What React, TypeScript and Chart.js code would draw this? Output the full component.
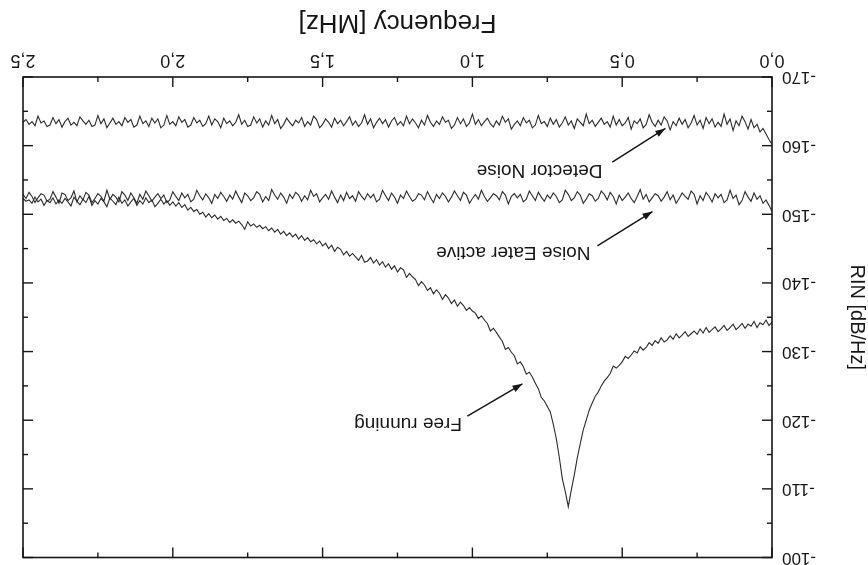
import React, { useEffect, useRef } from "react";
import { Chart, registerables } from "chart.js";

Chart.register(...registerables);

// Frequency sampling of the traces (MHz)
const freqStepMHz = 0.01;

// Tick values and labels
const xTickValues = [0, 0.5, 1.0, 1.5, 2.0, 2.5];
const xTickLabels = ["0,0", "0,5", "1,0", "1,5", "2,0", "2,5"];
const yTickValues = [-170, -160, -150, -140, -130, -120, -110, -100];
const yTickLabels = ["-170", "-160", "-150", "-140", "-130", "-120", "-110", "-100"];

// RIN [dB/Hz], one value per 0.01 MHz from 0.00 to 2.50 MHz
const freeRunning = [
  -134.3, -133.8, -134.6, -133.9, -134.2, -133.5, -134.4, -133.7, -134.0, -133.4,
  -134.1, -133.6, -133.2, -134.0, -133.5, -133.1, -133.8, -133.3, -132.9, -133.6,
  -133.2, -132.8, -133.5, -132.7, -133.3, -132.5, -133.0, -132.6, -132.2, -132.9,
  -132.4, -132.0, -132.6, -131.8, -132.3, -131.7, -131.4, -132.0, -131.2, -131.6,
  -130.9, -131.3, -130.6, -130.2, -130.7, -129.8, -130.1, -129.5, -129.0, -129.3,
  -128.5, -128.0, -127.6, -127.9, -126.8, -126.2, -125.7, -125.0, -124.1, -123.5,
  -122.5, -121.5, -120.0, -118.6, -116.6, -114.5, -112.0, -109.8, -107.4, -109.6,
  -111.5, -114.6, -117.3, -119.4, -121.2, -122.0, -122.8, -123.3, -124.6, -125.4,
  -126.3, -127.0, -126.7, -127.8, -128.5, -128.2, -129.4, -129.9, -130.6, -130.3,
  -131.5, -132.1, -132.8, -133.4, -133.0, -134.1, -134.6, -135.2, -134.8, -135.6,
  -135.9, -136.4, -136.0, -136.7, -137.2, -136.6, -137.5, -137.0, -137.8, -138.3,
  -137.6, -138.5, -139.0, -138.4, -139.3, -138.9, -139.7, -140.2, -139.6, -140.5,
  -140.9, -141.4, -140.8, -141.9, -142.2, -141.6, -142.5, -142.0, -142.8, -142.3,
  -143.1, -142.6, -143.4, -142.9, -143.7, -143.2, -143.0, -144.0, -143.3, -143.8,
  -144.3, -143.9, -144.6, -144.1, -144.9, -145.2, -144.6, -145.5, -145.0, -145.8,
  -145.4, -146.1, -145.7, -146.3, -146.0, -146.6, -146.2, -146.9, -146.4, -147.1,
  -146.7, -147.3, -146.9, -147.5, -147.1, -147.8, -147.4, -148.0, -147.6, -148.2,
  -147.9, -148.4, -148.1, -148.6, -148.3, -148.9, -147.8, -148.5, -149.0, -148.7,
  -149.2, -148.8, -149.4, -149.1, -149.7, -149.3, -149.9, -149.5, -150.1, -149.6,
  -150.3, -150.0, -150.7, -150.4, -151.0, -150.6, -151.4, -151.0, -151.7, -151.2,
  -151.8, -151.3, -152.0, -151.5, -152.2, -151.6, -151.1, -152.1, -151.7, -152.4,
  -151.5, -152.0, -151.3, -152.3, -151.8, -151.2, -152.1, -151.6, -152.5, -151.4,
  -151.9, -152.4, -151.1, -151.8, -152.3, -151.5, -152.0, -151.3, -152.6, -151.7,
  -152.2, -151.4, -151.9, -152.5, -151.2, -151.8, -152.3, -151.6, -152.1, -151.5,
  -152.4, -151.7, -152.0, -151.3, -152.2, -151.8, -152.5, -151.6, -152.1, -151.9, -152.3,
];

const noiseEaterActive = [
  -150.4, -151.3, -152.1, -151.6, -152.7, -152.2, -153.1, -151.9, -152.5, -153.3,
  -152.0, -151.4, -152.8, -152.3, -153.5, -152.1, -151.7, -152.9, -152.4, -153.0,
  -151.8, -152.6, -153.2, -152.0, -152.7, -151.5, -152.9, -153.4, -152.2, -152.6,
  -153.1, -152.3, -151.6, -152.8, -152.1, -153.3, -152.5, -151.9, -152.7, -153.0,
  -152.4, -151.8, -152.9, -152.2, -153.6, -152.6, -151.7, -152.3, -153.1, -152.5,
  -152.0, -152.8, -151.5, -152.6, -153.2, -152.1, -152.9, -153.4, -152.3, -151.9,
  -152.7, -153.0, -152.2, -151.6, -152.8, -153.3, -152.4, -152.0, -152.9, -153.5,
  -152.1, -151.7, -152.6, -153.1, -152.3, -152.8, -151.9, -152.5, -153.2, -152.0,
  -152.7, -153.4, -152.2, -151.8, -152.9, -152.4, -153.0, -152.6, -151.5, -152.8,
  -153.3, -152.1, -152.7, -153.0, -152.4, -151.9, -152.6, -153.5, -152.2, -152.9,
  -152.3, -151.6, -152.8, -153.2, -152.0, -152.7, -153.4, -152.5, -151.8, -152.6,
  -153.1, -152.3, -152.9, -151.7, -152.4, -153.3, -152.1, -152.8, -153.0, -152.2,
  -151.9, -152.6, -153.4, -152.3, -152.8, -151.6, -152.5, -153.1, -152.0, -152.7,
  -153.5, -152.2, -151.8, -152.9, -152.4, -153.0, -152.1, -152.6, -153.3, -151.9,
  -152.7, -152.3, -153.2, -152.0, -152.8, -151.7, -152.5, -153.4, -152.2, -152.9,
  -152.4, -151.8, -153.0, -152.6, -153.5, -152.1, -152.7, -151.9, -152.8, -153.2,
  -152.3, -152.9, -151.6, -152.5, -153.1, -152.2, -152.8, -153.6, -152.0, -152.6,
  -151.8, -152.9, -153.3, -152.4, -152.0, -152.7, -153.1, -151.7, -152.5, -153.4,
  -152.2, -152.8, -151.9, -152.6, -153.2, -152.3, -152.9, -151.6, -152.4, -153.0,
  -152.1, -152.7, -153.5, -152.2, -151.8, -152.9, -152.4, -153.1, -152.0, -152.6,
  -153.3, -152.1, -151.7, -152.8, -152.3, -153.0, -152.5, -151.9, -152.7, -153.4,
  -152.2, -152.9, -151.6, -152.4, -153.1, -152.0, -152.8, -153.3, -151.8, -152.5,
  -152.9, -152.2, -153.5, -151.9, -152.6, -153.0, -152.3, -151.7, -152.8, -153.2,
  -152.1, -152.7, -151.8, -153.4, -152.4, -152.0, -152.9, -153.1, -151.6, -152.5,
  -153.3, -152.2, -151.9, -152.8, -153.0, -152.4, -151.7, -152.6, -153.2, -152.3, -152.9,
];

const detectorNoise = [
  -160.2, -160.9, -161.7, -162.5, -162.0, -163.1, -162.6, -163.8, -162.4, -163.5,
  -164.3, -162.9, -163.6, -162.2, -163.9, -163.1, -164.6, -162.8, -163.4, -162.7,
  -163.9, -163.2, -164.1, -162.5, -163.7, -163.0, -164.4, -163.3, -162.6, -163.8,
  -163.1, -164.0, -162.9, -163.5, -162.3, -163.6, -164.2, -163.0, -163.7, -162.8,
  -163.4, -164.5, -163.1, -162.6, -163.9, -163.2, -163.6, -162.4, -164.1, -163.3,
  -162.9, -163.8, -163.0, -164.3, -162.7, -163.5, -163.1, -164.0, -163.4, -162.8,
  -163.7, -163.2, -164.6, -162.9, -163.4, -163.9, -162.5, -163.6, -163.0, -164.2,
  -163.3, -162.7, -163.8, -163.1, -164.0, -162.8, -163.5, -163.2, -164.4, -163.0,
  -162.6, -163.7, -163.3, -164.1, -162.9, -163.6, -163.1, -162.4, -163.9, -163.4,
  -164.3, -163.0, -163.6, -162.7, -163.2, -164.0, -163.5, -162.9, -163.8, -163.1,
  -164.6, -163.3, -162.8, -163.9, -163.2, -164.1, -163.0, -162.5, -163.7, -163.4,
  -164.2, -163.1, -163.6, -162.8, -163.4, -164.4, -163.0, -163.7, -162.6, -163.3,
  -163.9, -163.2, -164.3, -162.9, -163.5, -163.0, -164.1, -163.6, -162.7, -163.8,
  -163.2, -164.0, -163.4, -162.6, -163.9, -163.1, -164.5, -163.3, -162.8, -163.6,
  -163.0, -164.2, -163.5, -162.9, -163.7, -163.2, -164.0, -162.7, -163.4, -163.9,
  -163.1, -162.6, -163.8, -164.3, -163.0, -163.5, -162.8, -164.1, -163.3, -163.7,
  -162.9, -163.4, -164.0, -163.1, -162.5, -163.8, -163.2, -164.4, -163.0, -163.6,
  -162.7, -163.9, -163.3, -164.2, -163.0, -162.8, -163.7, -163.1, -164.5, -163.4,
  -162.9, -163.6, -163.2, -164.0, -162.6, -163.5, -163.9, -163.0, -164.3, -163.2,
  -162.8, -163.7, -163.3, -164.1, -163.0, -162.7, -163.8, -163.4, -164.2, -162.9,
  -163.5, -163.1, -164.4, -163.0, -162.6, -163.9, -163.3, -164.0, -162.8, -163.6,
  -163.2, -164.3, -163.0, -162.7, -163.8, -163.4, -164.1, -162.9, -163.5, -163.1,
  -164.0, -163.3, -162.6, -163.9, -163.2, -164.4, -163.0, -162.8, -163.7, -163.1,
  -163.6, -164.2, -162.9, -163.4, -163.0, -164.0, -163.5, -162.7, -163.8, -163.2,
  -164.1, -163.0, -162.8, -163.6, -163.3, -164.3, -162.9, -163.5, -163.1, -163.8, -163.4,
];

// Annotation texts with their anchor (data units) and arrow
const annotations = [
  { text: "Free running", textF: 1.035, textDb: -119.6, tailF: 1.017, tailDb: -120.6, headF: 0.833, headDb: -125.3 },
  { text: "Noise Eater active", textF: 0.606, textDb: -144.4, tailF: 0.583, tailDb: -145.4, headF: 0.399, headDb: -150.4 },
  { text: "Detector Noise", textF: 0.566, textDb: -156.4, tailF: 0.533, tailDb: -157.6, headF: 0.356, headDb: -162.5 },
];

const FONT = '"Liberation Sans", Arial, Helvetica, sans-serif';
const INK = "#161616";
const CANVAS_W = 868;
const CANVAS_H = 576;
const TOP_SHIFT = 11;

const toPoints = (vals: number[]) => vals.map((v, i) => ({ x: +(i * freqStepMHz).toFixed(2), y: v }));

const framePlugin = {
  id: "frameAndNotes",
  afterDatasetsDraw(chart: any) {
    const { ctx, chartArea: a } = chart;
    const xs = chart.scales.x;
    const ys = chart.scales.y;
    ctx.save();
    ctx.strokeStyle = INK;
    ctx.lineWidth = 1.6;
    ctx.strokeRect(a.left, a.top, a.right - a.left, a.bottom - a.top);

    ctx.lineWidth = 1.4;
    const major = 10;
    const minor = 5;
    const line = (x1: number, y1: number, x2: number, y2: number) => {
      ctx.beginPath();
      ctx.moveTo(x1, y1);
      ctx.lineTo(x2, y2);
      ctx.stroke();
    };
    const xTick = (v: number, len: number) => {
      const p = xs.getPixelForValue(v);
      line(p, a.bottom, p, a.bottom - len);
      line(p, a.top, p, a.top + len);
    };
    const yTick = (v: number, len: number) => {
      const p = ys.getPixelForValue(v);
      line(a.left, p, a.left + len, p);
      line(a.right, p, a.right - len, p);
    };
    xTickValues.forEach((v, i) => {
      xTick(v, major);
      if (i < xTickValues.length - 1) xTick((v + xTickValues[i + 1]) / 2, minor);
    });
    yTickValues.forEach((v, i) => {
      yTick(v, major);
      if (i < yTickValues.length - 1) yTick((v + yTickValues[i + 1]) / 2, minor);
    });

    ctx.font = `19px ${FONT}`;
    ctx.fillStyle = INK;
    ctx.textAlign = "left";
    ctx.textBaseline = "middle";
    annotations.forEach((n) => {
      ctx.fillText(n.text, xs.getPixelForValue(n.textF), ys.getPixelForValue(n.textDb));
      const tx = xs.getPixelForValue(n.tailF);
      const ty = ys.getPixelForValue(n.tailDb);
      const hx = xs.getPixelForValue(n.headF);
      const hy = ys.getPixelForValue(n.headDb);
      ctx.lineWidth = 1.5;
      line(tx, ty, hx, hy);
      const ang = Math.atan2(hy - ty, hx - tx);
      const L = 10;
      const W = 3.5;
      ctx.beginPath();
      ctx.moveTo(hx, hy);
      ctx.lineTo(hx - L * Math.cos(ang) + W * Math.sin(ang), hy - L * Math.sin(ang) - W * Math.cos(ang));
      ctx.lineTo(hx - L * Math.cos(ang) - W * Math.sin(ang), hy - L * Math.sin(ang) + W * Math.cos(ang));
      ctx.closePath();
      ctx.fill();
    });
    ctx.restore();
  },
};

export default function App() {
  const ref = useRef<HTMLCanvasElement | null>(null);
  useEffect(() => {
    if (!ref.current) return;
    const lineStyle = {
      borderColor: "#2b2b2b",
      borderWidth: 1.1,
      pointRadius: 0,
      tension: 0,
      fill: false,
    };
    const chart = new Chart(ref.current, {
      type: "line",
      data: {
        datasets: [
          { label: "Free running", data: toPoints(freeRunning), ...lineStyle },
          { label: "Noise Eater active", data: toPoints(noiseEaterActive), ...lineStyle },
          { label: "Detector Noise", data: toPoints(detectorNoise), ...lineStyle },
        ],
      },
      options: {
        responsive: false,
        animation: false,
        events: [],
        layout: { padding: { top: 0, right: 23, left: 0, bottom: 0 } },
        plugins: { legend: { display: false }, tooltip: { enabled: false } },
        scales: {
          x: {
            type: "linear",
            position: "bottom",
            min: 0,
            max: 2.5,
            afterBuildTicks: (s: any) => {
              s.ticks = xTickValues.map((v) => ({ value: v }));
            },
            afterFit: (s: any) => {
              s.height = 77;
            },
            ticks: {
              callback: (_v: any, i: number) => xTickLabels[i],
              font: { family: FONT, size: 18 },
              color: INK,
              padding: 6,
              maxRotation: 0,
              autoSkip: false,
            },
            grid: { display: false, drawTicks: false },
            border: { display: false },
            title: {
              display: true,
              text: "Frequency [MHz]",
              font: { family: FONT, size: 26, lineHeight: 1 },
              color: INK,
              padding: { top: 0, bottom: 9 },
            },
          },
          y: {
            type: "linear",
            min: -170,
            max: -100,
            afterBuildTicks: (s: any) => {
              s.ticks = yTickValues.map((v) => ({ value: v }));
            },
            afterFit: (s: any) => {
              s.width = 96;
            },
            ticks: {
              callback: (_v: any, i: number) => yTickLabels[i],
              font: { family: FONT, size: 17, lineHeight: 1 },
              color: INK,
              padding: 10,
              autoSkip: false,
            },
            grid: { display: false, drawTicks: false },
            border: { display: false },
            title: {
              display: true,
              text: "RIN [dB/Hz]",
              font: { family: FONT, size: 20, lineHeight: 1 },
              color: INK,
              padding: { top: 1, bottom: 0 },
            },
          },
        },
      },
      plugins: [framePlugin],
    } as any);
    return () => chart.destroy();
  }, []);

  return (
    <div
      style={{
        position: "fixed",
        left: 0,
        top: 0,
        width: 868,
        height: 565,
        overflow: "hidden",
        background: "#fff",
        transform: "rotate(180deg)",
      }}
    >
      <canvas
        ref={ref}
        width={CANVAS_W}
        height={CANVAS_H}
        style={{ display: "block", marginTop: -TOP_SHIFT }}
      />
    </div>
  );
}
